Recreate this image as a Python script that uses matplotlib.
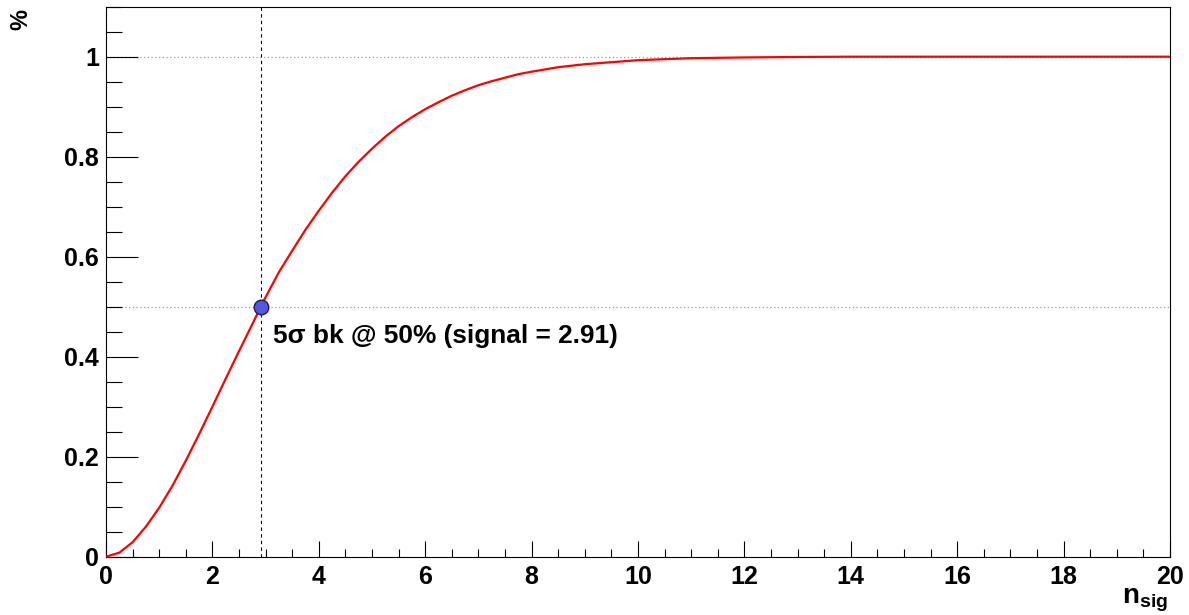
import matplotlib
matplotlib.use('Agg')
import matplotlib.pyplot as plt
from matplotlib.ticker import MultipleLocator, FuncFormatter

plt.rcParams['font.family'] = ['Liberation Sans', 'DejaVu Sans']
plt.rcParams['font.weight'] = 'bold'
plt.rcParams['mathtext.fontset'] = 'custom'
plt.rcParams['mathtext.rm'] = 'Liberation Sans:bold'
plt.rcParams['mathtext.bf'] = 'Liberation Sans:bold'
plt.rcParams['mathtext.it'] = 'Liberation Sans:bold'

# detection probability vs number of signal events
n_sig = [0, 0.25, 0.5, 0.75, 1.0, 1.25, 1.5, 1.75, 2.0, 2.25, 2.5, 2.75, 2.91,
         3.0, 3.25, 3.5, 3.75, 4.0, 4.25, 4.5, 4.75, 5.0, 5.25, 5.5, 5.75,
         6.0, 6.25, 6.5, 6.75, 7.0, 7.25, 7.5, 7.75, 8.0, 8.5, 9.0, 9.5,
         10, 10.5, 11, 12, 13, 14, 16, 18, 20]
prob = [0, 0.008, 0.029, 0.06, 0.098, 0.142, 0.192, 0.245, 0.300, 0.356,
        0.411, 0.465, 0.5, 0.519, 0.569, 0.612, 0.654, 0.692, 0.728, 0.761,
        0.790, 0.816, 0.840, 0.861, 0.879, 0.895, 0.909, 0.922, 0.933, 0.943,
        0.951, 0.958, 0.965, 0.970, 0.979, 0.985, 0.989, 0.993, 0.995, 0.997,
        0.9985, 0.9995, 1.0, 1.0, 1.0, 1.0]

sig50 = 2.91
p50 = 0.5
label50 = '5\u03c3 bk @ 50% (signal = 2.91)'

fig = plt.figure(figsize=(11.89, 6.15), dpi=100)
ax = fig.add_axes([106 / 1189, 58.3 / 615, 1064 / 1189, 550 / 615])

ax.axhline(1.0, color='#999999', lw=0.9, ls=(0, (1, 2)), zorder=1)
ax.axhline(p50, color='#999999', lw=0.9, ls=(0, (1, 2)), zorder=1)
ax.axvline(sig50, color='black', lw=0.8, ls=(0, (3, 3)), zorder=1)

ax.plot(n_sig, prob, color='#ff0000', lw=1.6, zorder=3)
ax.plot([sig50], [p50], 'o', ms=10.5, mfc='#5555dd', mec='#1c1c55', mew=1.0, zorder=4)
ax.text(sig50 + 0.23, 0.427, label50, fontsize=18.9, fontweight='bold',
        ha='left', va='baseline', zorder=5)

ax.set_xlim(0, 20)
ax.set_ylim(0, 1.1)
ax.xaxis.set_major_locator(MultipleLocator(2))
ax.xaxis.set_minor_locator(MultipleLocator(0.5))
ax.yaxis.set_major_locator(MultipleLocator(0.2))
ax.yaxis.set_minor_locator(MultipleLocator(0.05))
ax.xaxis.set_major_formatter(FuncFormatter(lambda v, p: f'{v:g}'))
ax.yaxis.set_major_formatter(FuncFormatter(lambda v, p: f'{v:g}'))

ax.tick_params(axis='x', which='major', direction='in', length=11.8, width=0.8,
               labelsize=18, pad=6, top=False)
ax.tick_params(axis='x', which='minor', direction='in', length=5.9, width=0.8, top=False)
ax.tick_params(axis='y', which='major', direction='in', length=23, width=0.8,
               labelsize=18, pad=5, right=False)
ax.tick_params(axis='y', which='minor', direction='in', length=11.5, width=0.8, right=False)
for lbl in ax.get_xticklabels() + ax.get_yticklabels():
    lbl.set_fontweight('bold')
for s in ax.spines.values():
    s.set_linewidth(0.8)

fig.text(1168 / 1189, 1 - 600 / 615, r'$\mathbf{n_{sig}}$', fontsize=20,
         ha='right', va='center')
fig.text(21 / 1189, 1 - 20 / 615, '%', fontsize=17, fontweight='bold',
         rotation=90, ha='center', va='center')

fig.savefig('out.png', dpi=100)
